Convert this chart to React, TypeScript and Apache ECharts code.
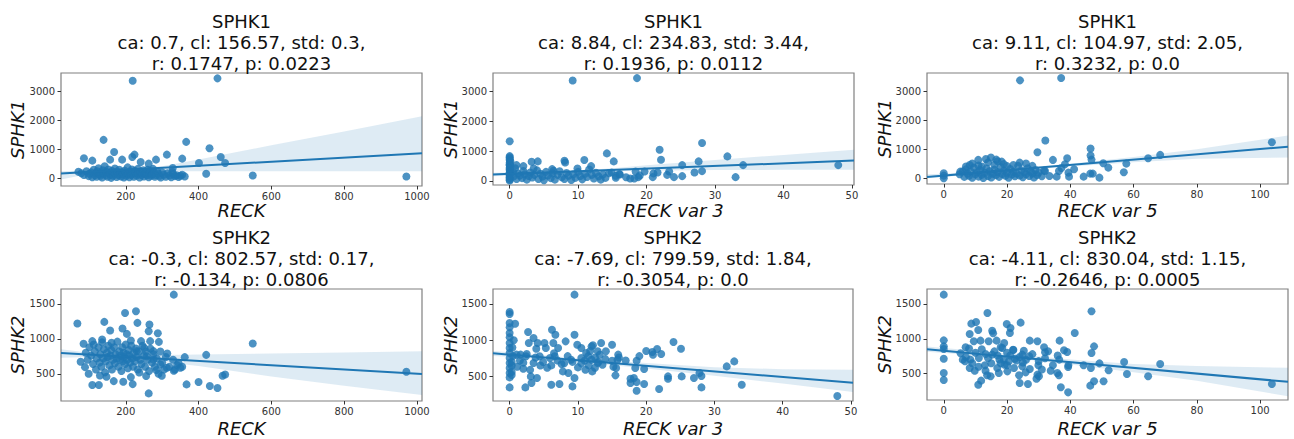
import React, { useEffect, useRef } from "react";
import * as echarts from "echarts";

// ---------- data ----------
const geneNames = ["SPHK1", "SPHK1", "SPHK1", "SPHK2", "SPHK2", "SPHK2"];
const xLabels = ["RECK", "RECK var 3", "RECK var 5", "RECK", "RECK var 3", "RECK var 5"];
const caVals = ["0.7", "8.84", "9.11", "-0.3", "-7.69", "-4.11"];
const clVals = ["156.57", "234.83", "104.97", "802.57", "799.59", "830.04"];
const stdVals = ["0.3", "3.44", "2.05", "0.17", "1.84", "1.15"];
const rVals = ["0.1747", "0.1936", "0.3232", "-0.134", "-0.3054", "-0.2646"];
const pVals = ["0.0223", "0.0112", "0.0", "0.0806", "0.0", "0.0005"];

const xRanges = [[22, 1014], [-2.44, 50.3], [-5.3, 108.8], [22, 1014], [-2.44, 50.3], [-5.3, 108.8]];
const yRanges = [[-260, 3630], [-140, 3620], [-184, 3632], [110, 1714], [160, 1707], [122, 1715]];
const xTicks = [[200, 400, 600, 800, 1000], [0, 10, 20, 30, 40, 50], [0, 20, 40, 60, 80, 100]];
const yTicksTop = [0, 1000, 2000, 3000];
const yTicksBottom = [500, 1000, 1500];

const sphk1VsReck = [
  [219,3364],[452,3445],[139,1329],[366,1260],[430,1040],[168,913],[313,821],[85,694],[461,740],[224,821],[218,740],[355,682],[401,532],[473,532],[108,613],[157,647],[190,647],[241,566],[263,509],[283,647],[421,162],[549,104],[971,69],[329,358],[328,220],
  [70,230],[78,180],[85,120],[92,250],[98,80],[100,160],[105,210],[108,40],[112,300],[115,110],[118,190],[120,60],[122,250],[125,350],[128,140],[130,90],[132,200],[135,30],[137,280],[140,160],[142,420],[145,110],[147,230],[150,60],[152,310],[155,180],[158,130],[160,20],[162,260],[165,90],[167,210],[170,340],[172,150],[175,50],[177,240],[180,110],[182,300],[185,180],[187,70],[190,220],[192,140],[195,30],[197,270],[200,190],[202,90],[205,380],[207,150],[210,40],[212,230],[215,120],[217,310],[220,170],[222,60],[225,260],[227,200],[230,100],[233,330],[235,150],[238,30],[240,240],[243,120],[245,190],[248,280],[250,70],[253,160],[255,220],[258,110],[260,300],[263,40],[265,180],[268,250],[270,90],[273,140],[275,330],[278,200],[280,60],[283,120],[286,250],[290,170],[293,90],[296,30],[300,210],[305,130],[310,60],[315,180],[320,100],[325,40],[330,150],[335,80],[340,110],[345,50],[350,90],[355,130],[362,70]
];
const sphk1VsReckVar3 = [
  [9.2,3371],[18.6,3449],[0,1326],[28.1,1270],[21.9,1045],[14.2,921],[31.8,820],[22.1,708],[15.2,652],[3.2,640],[4.1,652],[8.0,674],[8.1,618],[10.9,697],[27.6,652],[25.2,528],[34.1,528],[48,528],[33,124],[24,124],[25.2,157],[27,281],[28.1,326],[20.9,124],[17.6,79],[18.8,124],[19.7,315],[21.6,281],[23.3,315],[18.4,315],[18.2,79],[14.9,281],[15.5,101],[16.1,213],[2.0,494],[1.0,528],[3.5,415],[6.2,393],[9.9,415],[11.9,494],[6.4,337],
  [0,830],[0,790],[0,740],[0,700],[0.1,660],[0,610],[0,560],[0,520],[0.1,480],[0,440],[0,400],[0,360],[0.1,320],[0,280],[0,240],[0,200],[0,160],[0,120],[0,80],[0,40],[0,10],
  [0.5,300],[0.6,150],[0.8,420],[1,60],[1.2,250],[1.5,180],[1.8,90],[2,330],[2.2,220],[2.5,40],[2.8,160],[3,280],[3.3,110],[3.6,200],[4,350],[4.2,60],[4.5,240],[4.8,140],[5,20],[5.3,300],[5.6,180],[6,90],[6.3,250],[6.6,40],[7,200],[7.3,320],[7.6,120],[8,60],[8.3,260],[8.6,170],[9,30],[9.3,220],[9.6,100],[10,300],[10.3,160],[10.6,50],[11,240],[11.3,130],[11.6,380],[12,200],[12.3,80],[12.6,270],[13,150],[13.3,40],[13.6,210],[14,100],[14.5,260],[15.5,170],[16,230],[17,120],[19,180],[21,250],[23,200]
];
const sphk1VsReckVar5 = [
  [24.1,3379],[37.1,3460],[32.1,1310],[103.7,1253],[46.4,1034],[29.6,908],[68.4,816],[64.6,701],[46.4,793],[46.7,655],[39,701],[34.5,644],[57.7,517],[52,379],[50.4,529],[56.9,218],[49.2,34],[47.1,172],[46.3,172],[44.2,69],[39.6,69],[39.4,207],[41.2,322],[36.4,264],[35.7,69],[33.4,92],[37.2,368],[38.3,494],[31.7,276],[10.9,644],[13.3,678],[14.9,724],[16.6,655],[18.3,586],[8.2,471],[5.2,241],[0,184],[0,11],[0,103],
  [5,150],[6,250],[6.5,60],[7,320],[7.5,180],[8,100],[8.5,250],[9,30],[9.5,380],[10,150],[10.5,220],[11,70],[11.5,300],[12,130],[12.5,20],[13,200],[13.5,350],[14,90],[14.5,260],[15,40],[15.5,170],[16,310],[16.5,120],[17,230],[17.5,60],[18,400],[18.5,160],[19,280],[19.5,100],[20,200],[20.5,30],[21,330],[21.5,140],[22,240],[22.5,80],[23,180],[23.5,440],[24,110],[24.5,290],[25,50],[25.5,220],[26,150],[26.5,360],[27,90],[27.5,250],[28,180],[28.5,40],[29,300],[29.5,120],[30,210],[31,80],[32,260],[11,450],[9,520],[12,420],[16,480],[19,500],[22,470],[26,520],[7,420],[14,560],[17,600],[20,430],[24,550],[28,440]
];
const sphk2VsReck = [
  [332,1633],[67,1219],[198,1371],[228,1395],[141,1243],[232,1229],[265,1205],[191,1148],[157,1119],[263,1110],[288,1081],[203,1071],[549,933],[421,771],[362,738],[314,790],[473,490],[466,471],[367,348],[400,381],[431,324],[452,295],[263,219],[108,338],[126,338],[193,386],[219,352],[167,395],[332,543],[341,624],[350,586],[299,471],[284,552],[256,467],[237,519],[214,452],[147,457],[129,476],[98,500],[88,595],[76,671],[84,929],[108,967],[135,990],[161,943],[214,976],[242,967],[267,967],[291,957],[276,824],[251,871],[230,824],[258,752],[276,705],[295,633],[313,586],[971,530],
  [90,800],[95,700],[100,880],[105,760],[110,640],[112,920],[115,820],[118,560],[120,720],[125,880],[128,660],[130,780],[133,600],[135,950],[138,720],[140,850],[143,520],[145,680],[148,800],[150,740],[152,900],[155,620],[158,760],[160,840],[162,560],[165,700],[168,880],[170,650],[172,780],[175,720],[177,960],[180,600],[182,820],[184,700],[186,760],[188,540],[190,880],[192,680],[194,800],[196,740],[198,640],[200,920],[202,780],[204,700],[206,580],[208,840],[210,760],[212,660],[215,900],[218,720],[220,600],[222,800],[225,680],[228,860],[230,740],[233,560],[236,820],[240,700],[243,640],[246,900],[250,760],[253,600],[256,820],[260,700],[264,540],[268,860],[272,660],[276,780],[280,600],[285,720],[290,500],[295,820],[300,660],[305,560],[310,740],[320,600],[330,700],[335,560],[345,650],[355,600]
];
const sphk2VsReckVar3 = [
  [9.5,1629],[0,1389],[0,1362],[0,1237],[0.8,1228],[0,1177],[0,1099],[0,1039],[0.6,998],[0,961],[0,892],[0,823],[0,753],[0,684],[0,615],[0,546],[0,486],[0,348],[2.3,348],[6.2,1145],[6.7,1076],[9.5,1076],[2.7,1113],[3.5,1030],[5.1,961],[6.4,961],[8.2,984],[4.1,961],[2.8,961],[3.9,882],[5.3,892],[7.1,892],[9.9,938],[12,915],[13.4,961],[15,938],[14.1,846],[12.2,929],[12.9,846],[11.2,823],[10.5,892],[24,975],[25.1,882],[21.6,878],[20.9,836],[22.2,809],[15.9,800],[15.8,730],[32.9,707],[31.8,638],[18.6,717],[18.4,615],[18.2,477],[17.7,408],[18.6,422],[19.7,394],[19.7,601],[17.7,468],[23.2,500],[23.2,468],[25.2,500],[27,477],[27.8,546],[28.1,505],[28.1,348],[21.9,325],[18.6,302],[34,385],[48,228],[15.5,514],[15.6,615],[15.2,634],[15,717],[12.1,569],[11.6,652],[9.5,477],[9.2,362],[7.3,394],[6.1,385],[4,477],[3.1,500],[3.2,408],[2,606],[1.1,634],[2.4,777],[3.5,684],[4.9,698],[6.1,652],[7.6,671],[7.8,569],[8.6,546],[10,624],[11.1,592],[12.9,684],[13.6,661],[12,730],[10.5,753],[9,730],[6.6,777],[5.9,753],[4.4,777],[1.6,800],
  [0.3,700],[0.3,650],[0.3,560],[0.3,520],[0.4,900],[0.5,780],[1,800],[1.5,720],[2,690],[2.5,810],[3,590],[3.8,760],[4.5,650],[5.5,620],[6.5,820],[7,720],[8,680],[8.5,780],[9.2,700],[10.5,680],[11,720],[11.5,780],[12.5,760],[13,700],[14,740],[11.8,850],[12.5,620],[13.2,800],[16,760],[17,720],[19,780],[20,850],[21,800]
];
const sphk2VsReckVar5 = [
  [0,1634],[46.7,1395],[13.8,1371],[8.7,1218],[10.2,1242],[19.9,1213],[24.3,1232],[21.1,1156],[20.9,1084],[10.9,1127],[8.2,1069],[15.3,1117],[15.6,1079],[41.4,1084],[0,978],[0,892],[0,854],[0,715],[0,510],[0,409],[36.6,974],[46.7,797],[47.5,892],[38,835],[39,811],[57,667],[68.4,639],[57.9,495],[64.6,462],[52.1,548],[49.2,648],[44.2,620],[46.5,581],[39.4,620],[39.3,596],[36.5,701],[34.5,620],[33.8,543],[35.9,510],[36.4,476],[29.9,620],[29.6,486],[30.1,462],[29.3,428],[37,304],[39.3,232],[46.3,328],[47.5,390],[50.5,390],[26.6,352],[24,366],[10.9,342],[11.8,400],[13.7,476],[14.8,462],[13.2,543],[9.8,543],[8.2,581],[5.3,792],[6.0,701],[6.9,878],[9.5,964],[11.6,974],[14.2,964],[16.7,974],[19.1,940],[18.5,868],[21.9,844],[25.3,830],[27.2,974],[29.6,964],[31.7,878],[32,806],[27,749],[24.8,773],[22.5,715],[20.6,677],[17.6,701],[15.3,773],[13.2,782],[11.1,725],[8.4,701],[6.7,677],[24.8,605],[22.2,581],[20.1,533],[17.4,510],[25.9,519],[27.2,567],[23.8,476],[16.9,581],[19.2,629],[103.7,352],
  [10,800],[12,850],[14,720],[16,820],[17,760],[18,880],[19,700],[20,800],[21,760],[22,840],[23,690],[24,740],[26,700],[28,780],[30,680],[32,720],[15,650],[13,620],[11,600],[9,650],[18,650],[20,620],[25,660],[7,740],[8,860],[33,820],[36,760],[31,560]
];
const panelPoints = [sphk1VsReck, sphk1VsReckVar3, sphk1VsReckVar5, sphk2VsReck, sphk2VsReckVar3, sphk2VsReckVar5];

// confidence band (read at a few x positions)
const bandX = [
  [22, 100, 200, 300, 400, 600, 800, 1014],
  [-2.44, 5, 10, 15, 20, 30, 40, 50.3],
  [-5.3, 0, 20, 40, 60, 80, 108.8],
  [22, 100, 200, 300, 400, 600, 800, 1014],
  [-2.44, 0, 10, 20, 30, 40, 50.3],
  [-5.3, 0, 20, 40, 60, 80, 108.8],
];
const bandUpper = [
  [250, 280, 330, 420, 650, 1140, 1620, 2140],
  [270, 300, 350, 420, 520, 700, 870, 1045],
  [150, 170, 330, 510, 740, 1010, 1480],
  [850, 800, 775, 770, 775, 790, 805, 824],
  [850, 835, 750, 685, 625, 600, 592],
  [890, 870, 790, 705, 640, 610, 585],
];
const bandLower = [
  [-40, 160, 240, 250, 245, 245, 245, 245],
  [150, 215, 285, 320, 340, 360, 370, 375],
  [30, 60, 260, 420, 560, 680, 730],
  [730, 740, 710, 670, 610, 460, 330, 195],
  [780, 770, 700, 610, 510, 400, 285],
  [815, 795, 730, 630, 520, 400, 175],
];

// ---------- layout ----------
const GRIDS = [
  { left: 61, top: 73, width: 361, height: 113 },
  { left: 493, top: 73, width: 361, height: 112 },
  { left: 927, top: 73, width: 361, height: 111 },
  { left: 61, top: 289, width: 361, height: 112 },
  { left: 493, top: 289, width: 360, height: 112 },
  { left: 927, top: 289, width: 361, height: 111 },
];
const FONT = "DejaVu Sans";
const BLUE = "#1f77b4";

export default function App() {
  const ref = useRef<HTMLDivElement>(null);
  useEffect(() => {
    document.body.style.margin = "0";
    const chart = echarts.init(ref.current!, null, { renderer: "svg" });
    const grid: any[] = [];
    const xAxis: any[] = [];
    const yAxis: any[] = [];
    const series: any[] = [];
    const graphic: any[] = [];
    GRIDS.forEach((g, i) => {
      grid.push({ ...g, show: true, borderColor: "#808080", borderWidth: 1.2, backgroundColor: "transparent" });
      const xt = xTicks[i % 3];
      const yt = i < 3 ? yTicksTop : yTicksBottom;
      const axisCommon = {
        axisLine: { show: false, onZero: false },
        splitLine: { show: false },
      };
      xAxis.push({
        type: "value", gridIndex: i, position: "bottom", min: xRanges[i][0], max: xRanges[i][1], ...axisCommon,
        axisTick: { show: true, length: 3.5, lineStyle: { color: "#333" }, customValues: xt },
        axisLabel: { customValues: xt, fontSize: 10, color: "#333", fontFamily: FONT, margin: 5, formatter: (v: number) => String(v) },
      });
      yAxis.push({
        type: "value", gridIndex: i, position: "left", min: yRanges[i][0], max: yRanges[i][1], ...axisCommon,
        axisTick: { show: true, length: 3.5, lineStyle: { color: "#333" }, customValues: yt },
        axisLabel: { customValues: yt, fontSize: 10, color: "#333", fontFamily: FONT, margin: 6, formatter: (v: number) => String(v) },
      });
      const bx = bandX[i], bu = bandUpper[i], bl = bandLower[i];
      series.push({
        type: "custom", xAxisIndex: i, yAxisIndex: i, z: 1, silent: true,
        data: bx.map((x, k) => [x, bu[k], bl[k]]),
        encode: { x: 0, y: 1 },
        renderItem: (params: any, api: any) => {
          if (params.dataIndex !== 0) return null;
          const pts: number[][] = [];
          for (let k = 0; k < bx.length; k++) pts.push(api.coord([bx[k], bu[k]]));
          for (let k = bx.length - 1; k >= 0; k--) pts.push(api.coord([bx[k], bl[k]]));
          return { type: "polygon", shape: { points: pts }, style: { fill: BLUE, opacity: 0.15 } };
        },
      });
      series.push({
        type: "scatter", xAxisIndex: i, yAxisIndex: i, z: 2, symbolSize: 8,
        data: panelPoints[i],
        itemStyle: { color: BLUE, opacity: 0.8 },
      });
      const a = Number(caVals[i]), b = Number(clVals[i]);
      const [x0, x1] = xRanges[i];
      series.push({
        type: "line", xAxisIndex: i, yAxisIndex: i, z: 3, symbol: "none",
        data: [[x0, a * x0 + b], [x1, a * x1 + b]],
        lineStyle: { color: BLUE, width: 2 },
      });
      const cx = g.left + g.width / 2;
      const titleY = i < 3 ? [21.5, 42.3, 63] : [237.7, 258.7, 279.7];
      const lines = [
        geneNames[i],
        `ca: ${caVals[i]}, cl: ${clVals[i]}, std: ${stdVals[i]},`,
        `r: ${rVals[i]}, p: ${pVals[i]}`,
      ];
      lines.forEach((t, k) => {
        graphic.push({
          type: "text", x: cx, y: titleY[k],
          style: { text: t, fill: "#111", font: `18px "${FONT}"`, align: "center", verticalAlign: "middle" },
        });
      });
      graphic.push({
        type: "text", x: cx, y: i < 3 ? 210.5 : 428,
        style: { text: xLabels[i], fill: "#111", font: `italic 18px "${FONT}"`, align: "center", verticalAlign: "middle" },
      });
      const ylx = [17.5, 450.5, 884][i % 3];
      graphic.push({
        type: "text", x: ylx, y: g.top + g.height / 2, rotation: Math.PI / 2,
        style: { text: geneNames[i], fill: "#111", font: `italic 18px "${FONT}"`, align: "center", verticalAlign: "middle" },
      });
    });
    chart.setOption({ animation: false, grid, xAxis, yAxis, series, graphic });
    return () => chart.dispose();
  }, []);
  return <div ref={ref} style={{ width: 1294, height: 439 }} />;
}
